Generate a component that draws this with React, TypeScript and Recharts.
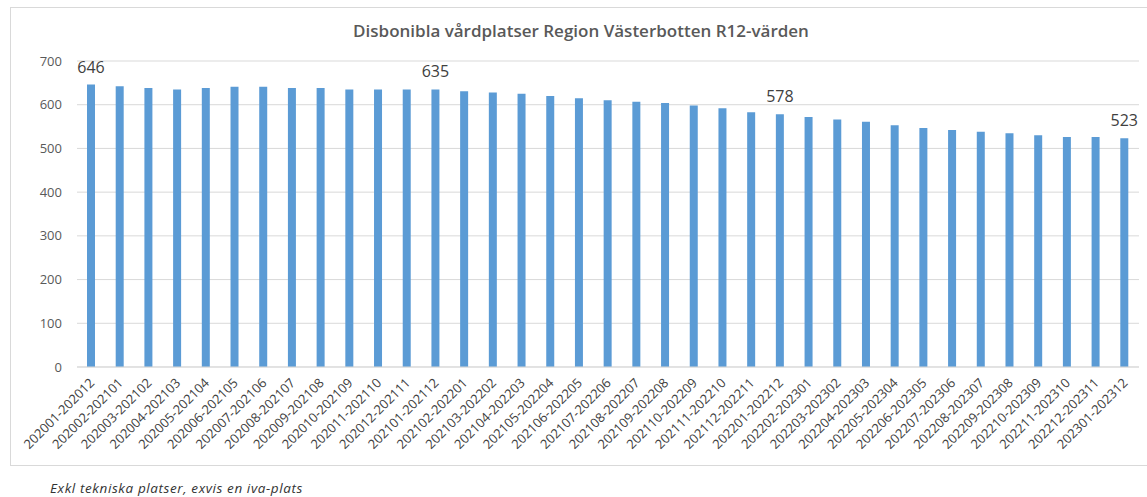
import React from "react";
import { BarChart, Bar, XAxis, YAxis, CartesianGrid, LabelList } from "recharts";

const categories = [
  "202001-202012", "202002-202101", "202003-202102", "202004-202103", "202005-202104",
  "202006-202105", "202007-202106", "202008-202107", "202009-202108", "202010-202109",
  "202011-202110", "202012-202111", "202101-202112", "202102-202201", "202103-202202",
  "202104-202203", "202105-202204", "202106-202205", "202107-202206", "202108-202207",
  "202109-202208", "202110-202209", "202111-202210", "202112-202211", "202201-202212",
  "202202-202301", "202203-202302", "202204-202303", "202205-202304", "202206-202305",
  "202207-202306", "202208-202307", "202209-202308", "202210-202309", "202211-202310",
  "202212-202311", "202301-202312",
];

const values = [
  646, 642, 638, 635, 638, 641, 641, 638, 638, 635,
  635, 635, 635, 631, 628, 625, 620, 615, 610, 607,
  604, 598, 592, 583, 578, 572, 566, 561, 553, 547,
  542, 538, 535, 530, 526, 526, 523,
];

const labeledIndices = [0, 12, 24, 36];
const yTicks = [0, 100, 200, 300, 400, 500, 600, 700];

const title = "Disbonibla vårdplatser Region Västerbotten R12-värden";
const footnote = "Exkl tekniska platser, exvis en iva-plats";

const data = categories.map((c, i) => ({
  name: c,
  value: values[i],
  labelValue: labeledIndices.includes(i) ? values[i] : undefined,
}));

const FONT = "'Open Sans', 'Noto Sans', sans-serif";

const XTick = (props: any) => {
  const { x, y, payload } = props;
  return (
    <g transform={`translate(${x + 1},${y + 6})`}>
      <text
        transform="rotate(-45)"
        textAnchor="end"
        fontSize={13}
        fontFamily={FONT}
        fill="#404040"
        dy={4}
      >
        {payload.value}
      </text>
    </g>
  );
};

const BarLabel = (props: any) => {
  const { x, y, width, value } = props;
  if (value === undefined || value === null) return null;
  return (
    <text
      x={x + width / 2}
      y={y - 12}
      textAnchor="middle"
      fontSize={16}
      fontFamily={FONT}
      fill="#404040"
    >
      {value}
    </text>
  );
};

export default function App() {
  return (
    <div
      style={{
        position: "absolute",
        left: 0,
        top: 0,
        width: 1147,
        height: 497,
        background: "#ffffff",
        fontFamily: FONT,
        overflow: "hidden",
      }}
    >
      <div
        style={{
          position: "absolute",
          left: 10,
          top: 7,
          width: 1150,
          height: 459,
          border: "1px solid #d9d9d9",
          boxSizing: "border-box",
        }}
      />
      <div
        style={{
          position: "absolute",
          left: 0,
          top: 19,
          width: 1162,
          textAlign: "center",
          fontSize: 17,
          fontWeight: 600,
          color: "#595959",
          lineHeight: "24px",
        }}
      >
        {title}
      </div>
      <div style={{ position: "absolute", left: 0, top: 0 }}>
        <BarChart
          width={1147}
          height={497}
          data={data}
          margin={{ top: 61, right: 8, bottom: 30, left: 0 }}
          barCategoryGap={0}
        >
          <CartesianGrid vertical={false} stroke="#d9d9d9" />
          <XAxis
            dataKey="name"
            interval={0}
            tickLine={false}
            axisLine={{ stroke: "#d9d9d9" }}
            height={100}
            tick={<XTick />}
          />
          <YAxis
            domain={[0, 700]}
            ticks={yTicks}
            width={77}
            axisLine={false}
            tickLine={false}
            tickMargin={9}
            tick={{ fontSize: 13, fill: "#595959", fontFamily: FONT }}
          />
          <Bar dataKey="value" fill="#5b9bd5" barSize={8} isAnimationActive={false}>
            <LabelList dataKey="labelValue" content={<BarLabel />} />
          </Bar>
        </BarChart>
      </div>
      <div
        style={{
          position: "absolute",
          left: 50,
          top: 480,
          fontSize: 13.5,
          letterSpacing: 0.6,
          fontStyle: "italic",
          color: "#333333",
          lineHeight: "16px",
        }}
      >
        {footnote}
      </div>
    </div>
  );
}
